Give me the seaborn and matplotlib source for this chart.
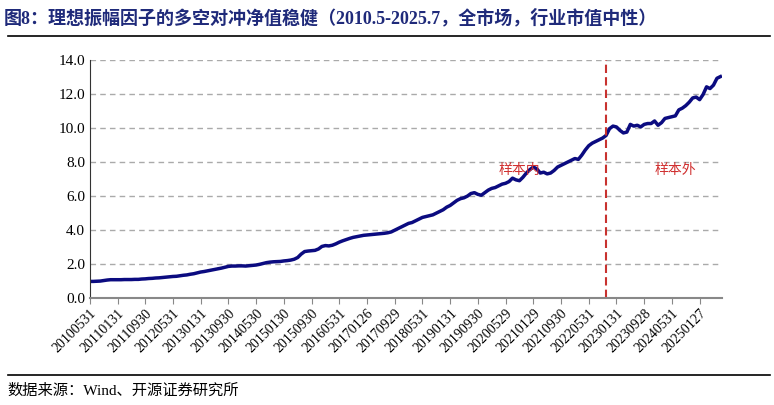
import matplotlib
matplotlib.use("Agg")
import matplotlib.pyplot as plt
import seaborn as sns
import pandas as pd
from matplotlib.lines import Line2D

values = [
 1.00,1.00,1.01,1.02,1.05,1.08,1.10,1.10,
 1.10,1.10,1.11,1.11,1.11,1.12,1.12,1.14,1.15,1.17,1.18,1.20,
 1.21,1.23,1.25,1.27,1.29,1.30,1.33,1.36,1.38,1.42,1.45,1.50,
 1.55,1.58,1.62,1.66,1.70,1.74,1.78,1.83,1.88,1.90,1.90,1.91,
 1.91,1.90,1.92,1.94,1.96,2.00,2.05,2.10,2.13,2.15,2.16,2.17,
 2.20,2.22,2.25,2.30,2.40,2.60,2.75,2.78,2.80,2.82,2.90,3.05,
 3.10,3.08,3.12,3.20,3.30,3.38,3.45,3.52,3.58,3.62,3.66,3.70,
 3.72,3.74,3.76,3.78,3.80,3.82,3.85,3.90,4.00,4.10,4.20,4.30,
 4.40,4.45,4.55,4.65,4.75,4.80,4.85,4.90,5.00,5.10,5.20,5.35,
 5.45,5.60,5.75,5.85,5.90,6.00,6.15,6.20,6.10,6.05,6.20,6.35,
 6.45,6.50,6.60,6.70,6.75,6.85,7.05,6.95,6.90,7.10,7.35,7.55,
 7.70,7.60,7.35,7.40,7.30,7.35,7.50,7.70,7.80,7.90,8.00,8.10,
 8.20,8.15,8.40,8.70,8.95,9.10,9.20,9.30,9.40,9.55,9.95,10.10,
 10.05,9.85,9.70,9.75,10.20,10.10,10.15,10.05,10.20,10.25,10.25,10.40,
 10.15,10.30,10.55,10.60,10.65,10.70,11.05,11.15,11.30,11.50,11.75,11.80,
 11.65,11.95,12.40,12.30,12.50,12.90,13.00]
tick_labels = ["20100531","20110131","20110930","20120531","20130131","20130930","20140530",
 "20150130","20150930","20160531","20170126","20170929","20180531","20190131","20190930",
 "20200529","20210129","20210930","20220531","20230131","20230928","20240531","20250127"]
split_index = 149
yticks = [0, 2, 4, 6, 8, 10, 12, 14]

plt.rcParams["font.family"] = ["Liberation Serif", "Noto Sans CJK SC"]
df = pd.DataFrame({"i": range(len(values)), "v": values})
fig = plt.figure(figsize=(7.74, 4.05), dpi=100)
ax = fig.add_axes([0.116, 0.263, 0.817, 0.59])
sns.lineplot(data=df, x="i", y="v", ax=ax, color="#0B0B80", linewidth=2.5)
ax.set_xlim(0, len(values) - 0.5)
ax.set_ylim(0, 14)
ax.set_yticks(yticks)
ax.set_yticklabels([f"{t:.1f}" for t in yticks], fontsize=11)
ax.set_xticks(list(range(0, len(values), 8)))
ax.set_xticklabels(tick_labels, rotation=45, ha="right", rotation_mode="anchor", fontsize=10)
ax.tick_params(axis="x", length=4, color="#888888", pad=2)
ax.tick_params(axis="y", length=0)
ax.grid(axis="y", color="#AAAAAA", linestyle=(0, (4, 3)), linewidth=1)
ax.set_xlabel(""); ax.set_ylabel("")
for s in ["top", "right"]:
    ax.spines[s].set_visible(False)
ax.spines["bottom"].set_color("#888888")
ax.spines["bottom"].set_linewidth(1.5)
ax.spines["left"].set_color("#333333")
ax.axvline(split_index, color="#C8322F", linestyle=(0, (4, 2)), linewidth=1.5)
ax.text(124, 7.3, "样本内", color="#D03030", fontsize=10, ha="center", fontfamily="Noto Sans CJK SC")
ax.text(169, 7.3, "样本外", color="#D03030", fontsize=10, ha="center", fontfamily="Noto Sans CJK SC")
fig.text(0.005, 0.955, "图8：理想振幅因子的多空对冲净值稳健（2010.5-2025.7，全市场，行业市值中性）",
         fontsize=13, fontweight="bold", color="#1F2A7A", va="center",
         fontfamily=["Liberation Serif", "Noto Sans CJK SC"])
fig.add_artist(Line2D([0.01, 0.995], [0.91, 0.91], color="black", linewidth=1.2))
fig.add_artist(Line2D([0.01, 0.995], [0.075, 0.075], color="black", linewidth=1.2))
fig.text(0.01, 0.035, "数据来源：Wind、开源证券研究所", fontsize=11, va="center",
         fontfamily=["Liberation Serif", "Noto Sans CJK SC"])
fig.savefig("out.png", dpi=100)
